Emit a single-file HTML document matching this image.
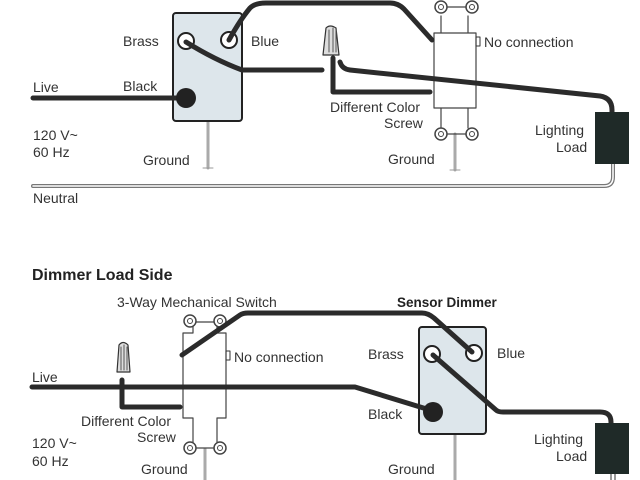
<!DOCTYPE html>
<html><head><style>
html,body{margin:0;padding:0;background:#fff;}
svg{display:block;}
text{font-family:"Liberation Sans",sans-serif;font-size:14px;fill:#333;}
</style></head><body>
<svg width="640" height="480" viewBox="0 0 640 480" xmlns="http://www.w3.org/2000/svg">
<rect width="640" height="480" fill="#fff"/>
<g fill="none" stroke-linejoin="round" stroke-linecap="round">
<!-- TOP -->
<line x1="208" y1="122" x2="208" y2="168" stroke="#aaa" stroke-width="3"/>
<line x1="203" y1="168" x2="213" y2="168" stroke="#999" stroke-width="1"/>
<line x1="455" y1="134" x2="455" y2="170" stroke="#aaa" stroke-width="3"/>
<line x1="450" y1="170" x2="460" y2="170" stroke="#999" stroke-width="1"/>
<path d="M33 186 H604 Q613 186 613 177 V164" stroke="#777" stroke-width="4"/>
<path d="M33 186 H604 Q613 186 613 177 V164" stroke="#fff" stroke-width="1.5"/>
<rect x="173" y="13" width="69" height="108" rx="3" fill="#dde6eb" stroke="#222" stroke-width="2"/>
<path d="M441 33 V16 M468 16 V33 M434 33 H476 M434 33 V108 H476 V33 M441 108 V128 M468 108 V128" stroke="#444" stroke-width="1.2"/>
<path d="M446 7 H466 M446 134 H466" stroke="#444" stroke-width="1.2"/>
<circle cx="441" cy="7" r="6" stroke="#444" stroke-width="1.5" fill="#fff"/>
<circle cx="472" cy="7" r="6" stroke="#444" stroke-width="1.5" fill="#fff"/>
<circle cx="441" cy="134" r="6" stroke="#444" stroke-width="1.5" fill="#fff"/>
<circle cx="472" cy="134" r="6" stroke="#444" stroke-width="1.5" fill="#fff"/>
<circle cx="441" cy="7" r="2.5" stroke="#444" stroke-width="1"/>
<circle cx="472" cy="7" r="2.5" stroke="#444" stroke-width="1"/>
<circle cx="441" cy="134" r="2.5" stroke="#444" stroke-width="1"/>
<circle cx="472" cy="134" r="2.5" stroke="#444" stroke-width="1"/>
<rect x="476" y="37" width="4" height="9" stroke="#333" stroke-width="1"/>
<circle cx="186" cy="41" r="8" fill="#fff" stroke="#222" stroke-width="2"/>
<circle cx="229" cy="40" r="8" fill="#fff" stroke="#222" stroke-width="2"/>
<path d="M33 98 H186" stroke="#2b2b2b" stroke-width="5"/>
<path d="M186 42 Q215 60 242 70 H322" stroke="#2b2b2b" stroke-width="5"/>
<path d="M229 40 Q240 20 250 8 Q255 3 266 3 H390 Q398 3 404 9 L432 40" stroke="#2b2b2b" stroke-width="5"/>
<path d="M340 62 Q342 69 350 70 L600 96 Q612 98 612 110 V114" stroke="#2b2b2b" stroke-width="5"/>
<path d="M333 58 V92 H430" stroke="#2b2b2b" stroke-width="5"/>
<path d="M323 55 L326 28 Q330 24 336 28 L339 55 Z" fill="#ddd" stroke="#333" stroke-width="1.2"/>
<path d="M329 30 V52 M333 28 V52 M336 30 V52" stroke="#555" stroke-width="1"/>
<circle cx="186" cy="98" r="10" fill="#222"/>
<rect x="595" y="112" width="34" height="52" fill="#1f2a28"/>

<!-- BOTTOM -->
<line x1="205" y1="449" x2="205" y2="480" stroke="#aaa" stroke-width="3"/>
<line x1="455" y1="434" x2="455" y2="480" stroke="#aaa" stroke-width="3"/>
<line x1="611" y1="474" x2="611" y2="480" stroke="#777" stroke-width="1.5"/>
<line x1="615" y1="474" x2="615" y2="480" stroke="#777" stroke-width="1.5"/>
<rect x="419" y="327" width="67" height="107" rx="3" fill="#dde6eb" stroke="#222" stroke-width="2"/>
<path d="M193 333 V326 M217 326 V333 M183 333 H193 M217 333 H226 M183 333 V418 H193 M226 333 V418 H217 M193 418 V442 M217 418 V442" stroke="#444" stroke-width="1.2"/>
<path d="M195 322 H215 M195 448 H215" stroke="#444" stroke-width="1.2"/>
<circle cx="190" cy="321" r="6" stroke="#444" stroke-width="1.5" fill="#fff"/>
<circle cx="220" cy="321" r="6" stroke="#444" stroke-width="1.5" fill="#fff"/>
<circle cx="190" cy="448" r="6" stroke="#444" stroke-width="1.5" fill="#fff"/>
<circle cx="220" cy="448" r="6" stroke="#444" stroke-width="1.5" fill="#fff"/>
<circle cx="190" cy="321" r="2.5" stroke="#444" stroke-width="1"/>
<circle cx="220" cy="321" r="2.5" stroke="#444" stroke-width="1"/>
<circle cx="190" cy="448" r="2.5" stroke="#444" stroke-width="1"/>
<circle cx="220" cy="448" r="2.5" stroke="#444" stroke-width="1"/>
<rect x="226" y="351" width="4" height="9" stroke="#333" stroke-width="1"/>
<circle cx="432" cy="354" r="8" fill="#fff" stroke="#222" stroke-width="2"/>
<circle cx="474" cy="353" r="8" fill="#fff" stroke="#222" stroke-width="2"/>
<path d="M32 387 H355 L430 410" stroke="#2b2b2b" stroke-width="5"/>
<path d="M182 355 L240 315 Q243 313 248 313 H422 Q428 313 434 318 L472 352" stroke="#2b2b2b" stroke-width="5"/>
<path d="M433 355 L496 410 Q498 412 503 412 H600 Q611 412 611 422 V425" stroke="#2b2b2b" stroke-width="5"/>
<path d="M122 380 V407 H180" stroke="#2b2b2b" stroke-width="5"/>
<path d="M117 372 L119 345 Q123 340 128 345 L130 372 Z" fill="#ddd" stroke="#333" stroke-width="1.2"/>
<path d="M121 347 V370 M124 345 V370 M127 347 V370" stroke="#555" stroke-width="1"/>
<circle cx="433" cy="412" r="10" fill="#222"/>
<rect x="595" y="423" width="34" height="51" fill="#1f2a28"/>
</g>
<g>
<text x="123" y="46">Brass</text>
<text x="251" y="46">Blue</text>
<text x="33" y="92">Live</text>
<text x="123" y="91">Black</text>
<text x="33" y="140">120 V~</text>
<text x="33" y="157">60 Hz</text>
<text x="143" y="165">Ground</text>
<text x="33" y="203" font-size="13">Neutral</text>
<text x="484" y="47">No connection</text>
<text x="330" y="112">Different Color</text>
<text x="384" y="128">Screw</text>
<text x="388" y="164">Ground</text>
<text x="535" y="135">Lighting</text>
<text x="556" y="152">Load</text>

<text x="32" y="280" style="font-size:16px;font-weight:bold;fill:#222">Dimmer Load Side</text>
<text x="117" y="307">3-Way Mechanical Switch</text>
<text x="397" y="307" style="font-weight:bold;fill:#222;font-size:13.5px">Sensor Dimmer</text>
<text x="368" y="359">Brass</text>
<text x="497" y="358">Blue</text>
<text x="368" y="419">Black</text>
<text x="234" y="362">No connection</text>
<text x="32" y="382">Live</text>
<text x="81" y="426">Different Color</text>
<text x="137" y="442">Screw</text>
<text x="32" y="448">120 V~</text>
<text x="32" y="466">60 Hz</text>
<text x="141" y="474">Ground</text>
<text x="388" y="474">Ground</text>
<text x="534" y="444">Lighting</text>
<text x="556" y="461">Load</text>
</g>
</svg>
</body></html>
